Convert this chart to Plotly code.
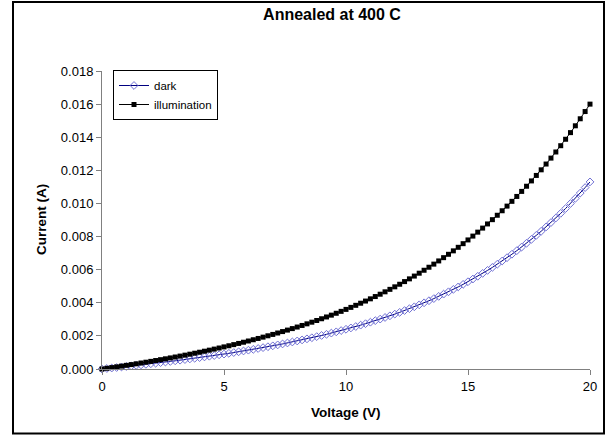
import plotly.graph_objects as go

# Voltage sweep (V), 0.2 V steps
voltage = [round(i * 0.2, 1) for i in range(101)]

# Dark current (A)
dark = [
    0.0000000, 0.0000297, 0.0000597, 0.0000902, 0.0001212,
    0.0001525, 0.0001844, 0.0002167, 0.0002495, 0.0002828,
    0.0003167, 0.0003510, 0.0003860, 0.0004216, 0.0004578,
    0.0004945, 0.0005319, 0.0005700, 0.0006088, 0.0006482,
    0.0006885, 0.0007295, 0.0007712, 0.0008138, 0.0008573,
    0.0009016, 0.0009468, 0.0009930, 0.0010401, 0.0010882,
    0.0011373, 0.0011875, 0.0012388, 0.0012912, 0.0013448,
    0.0013997, 0.0014558, 0.0015132, 0.0015719, 0.0016320,
    0.0016936, 0.0017566, 0.0018212, 0.0018874, 0.0019552,
    0.0020247, 0.0020960, 0.0021690, 0.0022440, 0.0023209,
    0.0023998, 0.0024808, 0.0025639, 0.0026493, 0.0027369,
    0.0028269, 0.0029193, 0.0030143, 0.0031119, 0.0032122,
    0.0033153, 0.0034213, 0.0035303, 0.0036424, 0.0037577,
    0.0038763, 0.0039983, 0.0041239, 0.0042531, 0.0043861,
    0.0045230, 0.0046639, 0.0048090, 0.0049584, 0.0051123,
    0.0052708, 0.0054341, 0.0056023, 0.0057756, 0.0059542,
    0.0061383, 0.0063279, 0.0065234, 0.0067250, 0.0069327,
    0.0071469, 0.0073678, 0.0075955, 0.0078304, 0.0080726,
    0.0083225, 0.0085802, 0.0088460, 0.0091202, 0.0094032,
    0.0096952, 0.0099964, 0.0103072, 0.0106280, 0.0109590,
    0.0113006,
]

# Current under illumination (A)
illumination = [
    0.0000000, 0.0000426, 0.0000860, 0.0001300, 0.0001748,
    0.0002204, 0.0002668, 0.0003140, 0.0003620, 0.0004109,
    0.0004607, 0.0005114, 0.0005631, 0.0006157, 0.0006693,
    0.0007240, 0.0007797, 0.0008366, 0.0008945, 0.0009536,
    0.0010138, 0.0010754, 0.0011382, 0.0012023, 0.0012677,
    0.0013347, 0.0014030, 0.0014727, 0.0015440, 0.0016168,
    0.0016911, 0.0017672, 0.0018449, 0.0019244, 0.0020057,
    0.0020888, 0.0021739, 0.0022609, 0.0023500, 0.0024411,
    0.0025344, 0.0026299, 0.0027276, 0.0028277, 0.0029302,
    0.0030351, 0.0031426, 0.0032528, 0.0033657, 0.0034814,
    0.0035998, 0.0037213, 0.0038459, 0.0039735, 0.0041045,
    0.0042387, 0.0043763, 0.0045175, 0.0046623, 0.0048108,
    0.0049631, 0.0051194, 0.0052798, 0.0054444, 0.0056134,
    0.0057867, 0.0059647, 0.0061474, 0.0063349, 0.0065275,
    0.0067251, 0.0069280, 0.0071365, 0.0073505, 0.0075704,
    0.0077959, 0.0080279, 0.0082661, 0.0085108, 0.0087623,
    0.0090207, 0.0092861, 0.0095589, 0.0098391, 0.0101272,
    0.0104231, 0.0107273, 0.0110400, 0.0113614, 0.0116918,
    0.0120309, 0.0123800, 0.0127388, 0.0131077, 0.0134871,
    0.0138770, 0.0142780, 0.0146904, 0.0151143, 0.0155504,
    0.0159986,
]

x_ticks = [0, 5, 10, 15, 20]
y_ticks = [0.000, 0.002, 0.004, 0.006, 0.008, 0.010, 0.012, 0.014, 0.016, 0.018]

title_text = "Annealed at 400 C"
x_title = "Voltage (V)"
y_title = "Current (A)"

FONT = "Liberation Sans, Arial, sans-serif"
W, H = 611, 438
L, R, T, B = 102, 21, 71, 68.5
PW, PH = W - L - R, H - T - B


def px_x(p):
    return (p - L) / PW


def px_y(p):
    return (H - B - p) / PH


fig = go.Figure()
fig.add_trace(go.Scatter(
    x=voltage, y=dark, name="dark", mode="lines+markers",
    line=dict(color="#000080", width=1),
    marker=dict(symbol="diamond-open", size=6, color="#7070d4",
                line=dict(width=1)),
    cliponaxis=False,
))
fig.add_trace(go.Scatter(
    x=voltage, y=illumination, name="illumination", mode="lines+markers",
    line=dict(color="#000000", width=1),
    marker=dict(symbol="square", size=5, color="#000000"),
    cliponaxis=False,
))

axis_common = dict(
    showline=True, linecolor="#808080", linewidth=1,
    ticks="outside", ticklen=5, tickcolor="#808080", tickwidth=1,
    showgrid=False, zeroline=False,
    tickfont=dict(family=FONT, size=13, color="#000000"),
)

fig.update_xaxes(range=[0, 20], tickvals=x_ticks, **axis_common)
fig.update_yaxes(range=[0, 0.018], tickvals=y_ticks, tickformat=".3f",
                 **axis_common)

fig.update_layout(
    width=W, height=H,
    margin=dict(l=L, r=R, t=T, b=B, autoexpand=False),
    paper_bgcolor="#ffffff", plot_bgcolor="#ffffff",
    font=dict(family=FONT, color="#000000"),
    title=dict(text="<b>" + title_text + "</b>",
               font=dict(family=FONT, size=16, color="#000000"),
               xref="paper", x=px_x(332), xanchor="center",
               yref="container", y=1 - 14 / H, yanchor="middle"),
    legend=dict(x=px_x(113), y=px_y(70), xanchor="left", yanchor="top",
                bordercolor="#000000", borderwidth=1, bgcolor="#ffffff",
                font=dict(family=FONT, size=11.5, color="#000000"),
                itemwidth=30, tracegroupgap=0),
    showlegend=True,
    hovermode=False,
    annotations=[
        dict(text="<b>" + x_title + "</b>", xref="paper", yref="paper",
             x=px_x(346), y=px_y(413), xanchor="center", yanchor="middle",
             showarrow=False, font=dict(family=FONT, size=13.5)),
        dict(text="<b>" + y_title + "</b>", xref="paper", yref="paper",
             x=px_x(41), y=0.5, xanchor="center", yanchor="middle",
             textangle=-90, showarrow=False, font=dict(family=FONT, size=13.5)),
    ],
    shapes=[
        dict(type="rect", xref="paper", yref="paper",
             x0=px_x(13), x1=px_x(604), y0=px_y(434), y1=px_y(2),
             line=dict(color="#000000", width=2), fillcolor="rgba(0,0,0,0)",
             layer="below"),
    ],
)

fig.write_html("out.html",
               config={"displayModeBar": False, "staticPlot": True},
               post_script="document.body.style.margin='0';"
                           "document.body.style.overflow='hidden';")
